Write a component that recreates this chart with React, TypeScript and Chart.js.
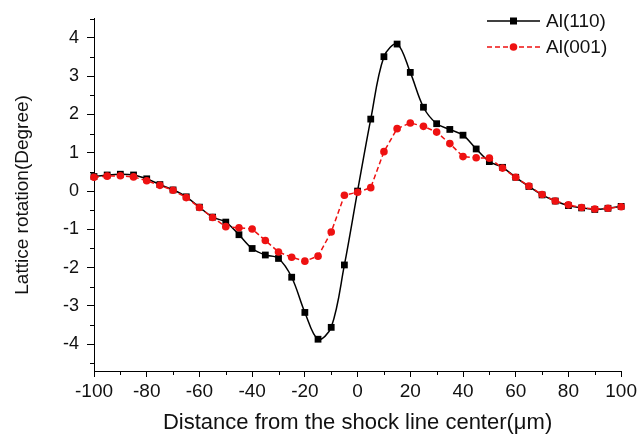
import React, { useEffect, useRef } from 'react';
import { Chart, registerables } from 'chart.js';

Chart.register(...registerables);

const xValues = [
  -100, -95, -90, -85, -80, -75, -70, -65, -60, -55,
  -50, -45, -40, -35, -30, -25, -20, -15, -10, -5,
  0, 5, 10, 15, 20, 25, 30, 35, 40, 45,
  50, 55, 60, 65, 70, 75, 80, 85, 90, 95, 100,
];

const al110 = [
  0.38, 0.42, 0.44, 0.42, 0.32, 0.17, 0.03, -0.15, -0.42, -0.68,
  -0.81, -1.14, -1.5, -1.67, -1.76, -2.25, -3.17, -3.87, -3.56, -1.93,
  0.0, 1.88, 3.51, 3.84, 3.1, 2.19, 1.76, 1.61, 1.46, 1.1,
  0.77, 0.62, 0.36, 0.12, -0.1, -0.26, -0.38, -0.44, -0.48, -0.45, -0.4,
];

const al001 = [
  0.36, 0.39, 0.4, 0.37, 0.27, 0.15, 0.02, -0.17, -0.43, -0.69,
  -0.93, -0.96, -0.99, -1.29, -1.59, -1.73, -1.83, -1.7, -1.07, -0.11,
  -0.03, 0.09, 1.03, 1.63, 1.78, 1.69, 1.54, 1.24, 0.9, 0.87,
  0.86, 0.6, 0.36, 0.13, -0.09, -0.26, -0.36, -0.43, -0.47, -0.45, -0.41,
];

const seriesLabels = ['Al(110)', 'Al(001)'];
const xTickValues = [-100, -80, -60, -40, -20, 0, 20, 40, 60, 80, 100];
const xMinorTickValues = [-90, -70, -50, -30, -10, 10, 30, 50, 70, 90];
const yTickValues = [-4, -3, -2, -1, 0, 1, 2, 3, 4];
const yMinorTickValues = [-4.5, -3.5, -2.5, -1.5, -0.5, 0.5, 1.5, 2.5, 3.5, 4.5];
const xTitle = 'Distance from the shock line center(\u03bcm)';
const yTitle = 'Lattice rotation(Degree)';

const FONT = "'Liberation Sans', Arial, sans-serif";
const BLACK = '#000000';
const RED = '#ee1111';

const minorTicksPlugin = {
  id: 'minorTicks',
  afterDraw(chart: any) {
    const { ctx, chartArea } = chart;
    const xs = chart.scales.x;
    const ys = chart.scales.y;
    ctx.save();
    ctx.strokeStyle = BLACK;
    ctx.lineWidth = 1;
    ctx.beginPath();
    xMinorTickValues.forEach((v) => {
      const px = Math.round(xs.getPixelForValue(v)) + 0.5;
      ctx.moveTo(px, chartArea.bottom);
      ctx.lineTo(px, chartArea.bottom + 4);
    });
    yMinorTickValues.forEach((v) => {
      const py = Math.round(ys.getPixelForValue(v)) + 0.5;
      ctx.moveTo(chartArea.left, py);
      ctx.lineTo(chartArea.left - 4, py);
    });
    ctx.stroke();
    ctx.restore();
  },
};

const legendPlugin = {
  id: 'customLegend',
  afterDraw(chart: any) {
    const { ctx } = chart;
    const order = [0, 1];
    ctx.save();
    order.forEach((dsIndex, row) => {
      const ds = chart.data.datasets[dsIndex];
      const y = 21 + row * 26;
      const x1 = 487;
      const x2 = 540;
      const xm = (x1 + x2) / 2;
      ctx.strokeStyle = ds.borderColor;
      ctx.lineWidth = 1.5;
      ctx.setLineDash(ds.borderDash || []);
      ctx.beginPath();
      ctx.moveTo(x1, y);
      ctx.lineTo(x2, y);
      ctx.stroke();
      ctx.setLineDash([]);
      ctx.fillStyle = ds.pointBackgroundColor;
      if (ds.pointStyle === 'rect') {
        ctx.fillRect(xm - 3.5, y - 3.5, 7, 7);
      } else {
        ctx.beginPath();
        ctx.arc(xm, y, 3.8, 0, Math.PI * 2);
        ctx.fill();
      }
      ctx.fillStyle = '#111';
      ctx.font = `19px ${FONT}`;
      ctx.textAlign = 'left';
      ctx.textBaseline = 'middle';
      ctx.fillText(ds.label, 546, y + 1);
    });
    ctx.restore();
  },
};

export default function App() {
  const canvasRef = useRef<HTMLCanvasElement | null>(null);

  useEffect(() => {
    const canvas = canvasRef.current;
    if (!canvas) return;
    const chart = new Chart(canvas, {
      type: 'line',
      data: {
        datasets: [
          {
            label: seriesLabels[0],
            data: xValues.map((x, i) => ({ x, y: al110[i] })),
            borderColor: BLACK,
            backgroundColor: BLACK,
            pointBackgroundColor: BLACK,
            pointBorderColor: BLACK,
            pointStyle: 'rect',
            pointRadius: 4.8,
            pointBorderWidth: 0,
            borderWidth: 1.5,
            tension: 0.35,
            clip: false,
            order: 1,
          } as any,
          {
            label: seriesLabels[1],
            data: xValues.map((x, i) => ({ x, y: al001[i] })),
            borderColor: RED,
            backgroundColor: RED,
            pointBackgroundColor: RED,
            pointBorderColor: RED,
            pointStyle: 'circle',
            pointRadius: 3.8,
            pointBorderWidth: 0,
            borderWidth: 1.5,
            borderDash: [5, 3],
            tension: 0,
            clip: false,
            order: 0,
          } as any,
        ],
      },
      options: {
        animation: false,
        responsive: true,
        maintainAspectRatio: false,
        layout: { padding: { left: 0, top: 15, right: 16, bottom: 0 } },
        plugins: {
          legend: { display: false },
          tooltip: { enabled: false },
        },
        scales: {
          x: {
            type: 'linear',
            min: -100,
            max: 100,
            afterBuildTicks: (scale: any) => {
              scale.ticks = xTickValues.map((v) => ({ value: v }));
            },
            afterFit: (scale: any) => {
              scale.height = 67;
            },
            grid: {
              display: true,
              drawOnChartArea: false,
              drawTicks: true,
              tickLength: 6,
              tickColor: BLACK,
              tickWidth: 1,
            },
            border: { display: true, color: BLACK, width: 1 },
            ticks: {
              color: '#111',
              font: { family: FONT, size: 19 },
              padding: 3,
              maxRotation: 0,
              autoSkip: false,
            },
            title: {
              display: true,
              text: xTitle,
              color: '#111',
              font: { family: FONT, size: 22 },
              padding: { top: 0, bottom: 2 },
            },
          },
          y: {
            type: 'linear',
            min: -4.7,
            max: 4.5,
            afterBuildTicks: (scale: any) => {
              scale.ticks = yTickValues.map((v) => ({ value: v }));
            },
            afterFit: (scale: any) => {
              scale.width = 94;
            },
            grid: {
              display: true,
              drawOnChartArea: false,
              drawTicks: true,
              tickLength: 7,
              tickColor: BLACK,
              tickWidth: 1,
            },
            border: { display: true, color: BLACK, width: 1 },
            ticks: {
              color: '#111',
              font: { family: FONT, size: 18 },
              padding: 8,
              autoSkip: false,
              callback: (v: any) => String(v),
            },
            title: {
              display: true,
              text: yTitle,
              color: '#111',
              font: { family: FONT, size: 19 },
              padding: { top: 11, bottom: 0 },
            },
          },
        },
      },
      plugins: [minorTicksPlugin, legendPlugin],
    });
    return () => {
      chart.destroy();
    };
  }, []);

  return (
    <div
      style={{
        position: 'absolute',
        left: 0,
        top: 0,
        width: 640,
        height: 438,
        background: '#ffffff',
      }}
    >
      <canvas ref={canvasRef} />
    </div>
  );
}
